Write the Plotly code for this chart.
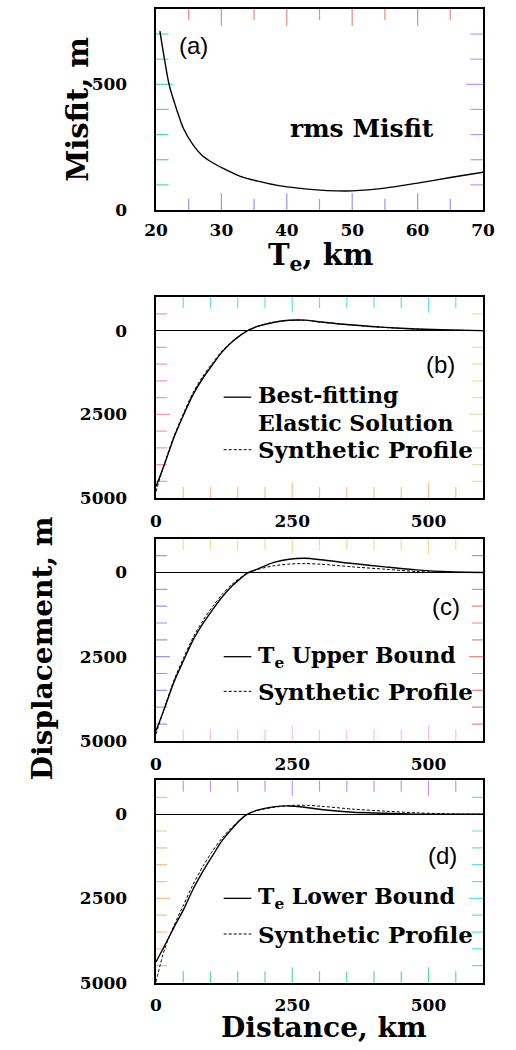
import plotly.graph_objects as go

# ---------------- data ----------------
te_km = [20.6, 21.3, 22, 22.8, 23.3, 24.2, 25.7, 27.1, 28.6, 30.1, 33, 35.9, 38.8,
         41.7, 44.6, 47.6, 50, 55, 60, 65, 70]
rms_misfit = [712, 600, 500, 429, 389, 324, 258, 216, 189, 168, 133, 113, 97,
              87, 80, 76, 76, 87, 107, 129, 150]

distance_km = [0, 16, 33, 51, 68, 86, 104, 121, 139, 156, 168, 186, 215, 244,
               273, 303, 361, 420, 478, 537, 600]

best_fit = [4650, 3970, 3185, 2500, 1910, 1420, 1010, 640, 343, 127, 0, -127, -245,
            -310, -314, -260, -167, -98, -49, -20, 0]
synth_b = [4800, 3950, 3150, 2450, 1850, 1360, 960, 610, 330, 120, 0, -130, -250,
           -305, -310, -255, -165, -95, -45, -18, 0]

upper_bound = [4700, 4020, 3250, 2600, 2010, 1520, 1100, 735, 410, 167, 20, -98, -294,
               -392, -421, -380, -265, -167, -78, -20, 0]
synth_c = [4800, 4000, 3200, 2520, 1930, 1430, 1010, 655, 360, 140, 5, -90, -196,
           -250, -265, -245, -167, -98, -29, 0, 0]

lower_bound = [4390, 3900, 3360, 2820, 2230, 1700, 1225, 794, 441, 147, 0, -118, -216,
               -245, -206, -137, -59, -29, 0, 0, 0]
synth_d = [4980, 4000, 3310, 2680, 2090, 1550, 1090, 715, 400, 147, 0, -110, -200,
           -255, -265, -235, -150, -90, -40, -10, 0]

panel_labels = ["(a)", "(b)", "(c)", "(d)"]
legend_solid = [["Best-fitting", "Elastic Solution"], ["T<sub>e</sub> Upper Bound"],
                ["T<sub>e</sub> Lower Bound"]]
legend_dash = "Synthetic Profile"

# ---------------- layout helpers ----------------
W, H = 516, 1050
SERIF = "DejaVu Serif"
SANS = "Liberation Sans"
NB = "\u00a0"


def px(x):
    return x / W


def py(y):
    return 1 - y / H


X0, X1 = 151, 494
xdom = [px(X0), px(X1)]
ypix = [(9, 212), (300, 503), (544, 748), (788, 992)]
ydoms = [[py(b), py(t)] for t, b in ypix]

panels = [
    dict(xr=[20, 70], xd=10, x0=20, xmin=5, xl=12, xml=8,
         yr=[0, 800], yd=500, ymin=100, yl=12, yml=9, zero=False, stand=4),
    dict(xr=[0, 600], xd=250, x0=0, xmin=50, xl=11, xml=8,
         yr=[5000, -1000], yd=2500, ymin=500, yl=10, yml=8, zero=True, stand=7),
    dict(xr=[0, 600], xd=250, x0=0, xmin=50, xl=11, xml=8,
         yr=[5000, -1000], yd=2500, ymin=500, yl=10, yml=8, zero=True, stand=7),
    dict(xr=[0, 600], xd=250, x0=0, xmin=50, xl=11, xml=8,
         yr=[5000, -1000], yd=2500, ymin=500, yl=10, yml=8, zero=True, stand=6),
]


def tick_values(lo, hi, step):
    lo, hi = min(lo, hi), max(lo, hi)
    n = int(round((hi - lo) / step))
    return [lo + k * step for k in range(1, n)]  # interior ticks only


fig = go.Figure()

# inward tick marks: line markers sitting on the frame, clipped to the plot area
for i, p in enumerate(panels):
    s = "" if i == 0 else str(i + 1)
    xv = tick_values(p["xr"][0], p["xr"][1], p["xmin"])
    xs = [2 * (p["xl"] if abs((v - p["x0"]) % p["xd"]) < 1e-9 else p["xml"]) for v in xv]
    for edge in p["yr"]:
        fig.add_trace(go.Scatter(x=xv, y=[edge] * len(xv), mode="markers", cliponaxis=True,
                                 marker=dict(symbol="line-ns-open", size=xs,
                                             line=dict(color="black", width=1.2)),
                                 xaxis="x" + s, yaxis="y" + s, showlegend=False, hoverinfo="skip"))
    yv = [v for v in tick_values(p["yr"][0], p["yr"][1], p["ymin"]) if not (p["zero"] and v == 0)]
    ysz = [2 * (p["yl"] if abs(v % p["yd"]) < 1e-9 else p["yml"]) for v in yv]
    for edge in p["xr"]:
        fig.add_trace(go.Scatter(x=[edge] * len(yv), y=yv, mode="markers", cliponaxis=True,
                                 marker=dict(symbol="line-ew-open", size=ysz,
                                             line=dict(color="black", width=1.2)),
                                 xaxis="x" + s, yaxis="y" + s, showlegend=False, hoverinfo="skip"))

fig.add_trace(go.Scatter(x=te_km, y=rms_misfit, mode="lines",
                         line=dict(color="black", width=1.4, shape="spline", smoothing=0.8),
                         xaxis="x", yaxis="y", showlegend=False))

solids = [best_fit, upper_bound, lower_bound]
dashes = [synth_b, synth_c, synth_d]
for i in range(3):
    xa = "x%d" % (i + 2)
    ya = "y%d" % (i + 2)
    fig.add_trace(go.Scatter(x=distance_km, y=dashes[i], mode="lines",
                             line=dict(color="black", width=1.0, dash="3px,2px", shape="spline", smoothing=0.8),
                             xaxis=xa, yaxis=ya, showlegend=False))
    fig.add_trace(go.Scatter(x=distance_km, y=solids[i], mode="lines",
                             line=dict(color="black", width=1.4, shape="spline", smoothing=0.8),
                             xaxis=xa, yaxis=ya, showlegend=False))

tickfont = dict(family=SERIF, size=17, color="black", weight="bold")

layout = dict(width=W, height=H, margin=dict(l=0, r=0, t=0, b=0),
              paper_bgcolor="white", plot_bgcolor="white", showlegend=False)

for i, p in enumerate(panels):
    n = i + 1
    s = "" if n == 1 else str(n)
    layout["xaxis" + s] = dict(domain=xdom, range=p["xr"], dtick=p["xd"], tick0=p["x0"],
                               showline=True, mirror=True, linecolor="black", linewidth=1.5,
                               ticks="", showgrid=False, zeroline=False, tickfont=tickfont,
                               ticklabelstandoff=p["stand"], anchor="y" + s)
    yk = dict(domain=ydoms[i], range=p["yr"], dtick=p["yd"], tick0=0,
              showline=True, mirror=True, linecolor="black", linewidth=1.5,
              ticks="", showgrid=False, zeroline=False, tickfont=tickfont,
              ticksuffix=NB * 4, anchor="x" + s)
    if p["zero"]:
        yk.update(zeroline=True, zerolinecolor="black", zerolinewidth=1.3)
    layout["yaxis" + s] = yk

fig.update_layout(**layout)

ann = []
shapes = []


def text(x, y, s, size, family=SERIF, bold=True, angle=0, xanchor="center"):
    ann.append(dict(x=px(x), y=py(y), xref="paper", yref="paper", text=s, showarrow=False,
                    xanchor=xanchor, yanchor="middle", textangle=angle, align="left",
                    font=dict(family=family, size=size, color="black",
                              weight="bold" if bold else "normal")))


# axis titles
text(69, 110, "Misfit, m", 29, angle=-90)
text(324, 259, "T<sub>e</sub>, km", 29)
text(32, 655, "Displacement, m", 28, angle=-90)
text(327, 1037, "Distance, km", 28)

# panel a label + text
text(190, 46, panel_labels[0], 24, family=SANS, bold=False)
text(367, 130, "rms Misfit", 25)

# panel labels
text(449, 368, panel_labels[1], 24, family=SANS, bold=False)
text(455, 612, panel_labels[2], 24, family=SANS, bold=False)
text(451, 864, panel_labels[3], 24, family=SANS, bold=False)

# legends
leg_rows = [(401, 454, [399, 427]), (663, 698, [663]), (907, 943, [907])]
for i, (ys, yd, yts) in enumerate(leg_rows):
    shapes.append(dict(type="line", xref="paper", yref="paper", x0=px(222), x1=px(251),
                       y0=py(ys), y1=py(ys), line=dict(color="black", width=1.3)))
    shapes.append(dict(type="line", xref="paper", yref="paper", x0=px(222), x1=px(251),
                       y0=py(yd), y1=py(yd), line=dict(color="black", width=1.0, dash="3px,2px")))
    for s, yt in zip(legend_solid[i], yts):
        text(256, yt, s, 22, xanchor="left")
    text(256, yd, legend_dash, 23, xanchor="left")

fig.update_layout(annotations=ann, shapes=shapes)
fig.write_html("out.html")
